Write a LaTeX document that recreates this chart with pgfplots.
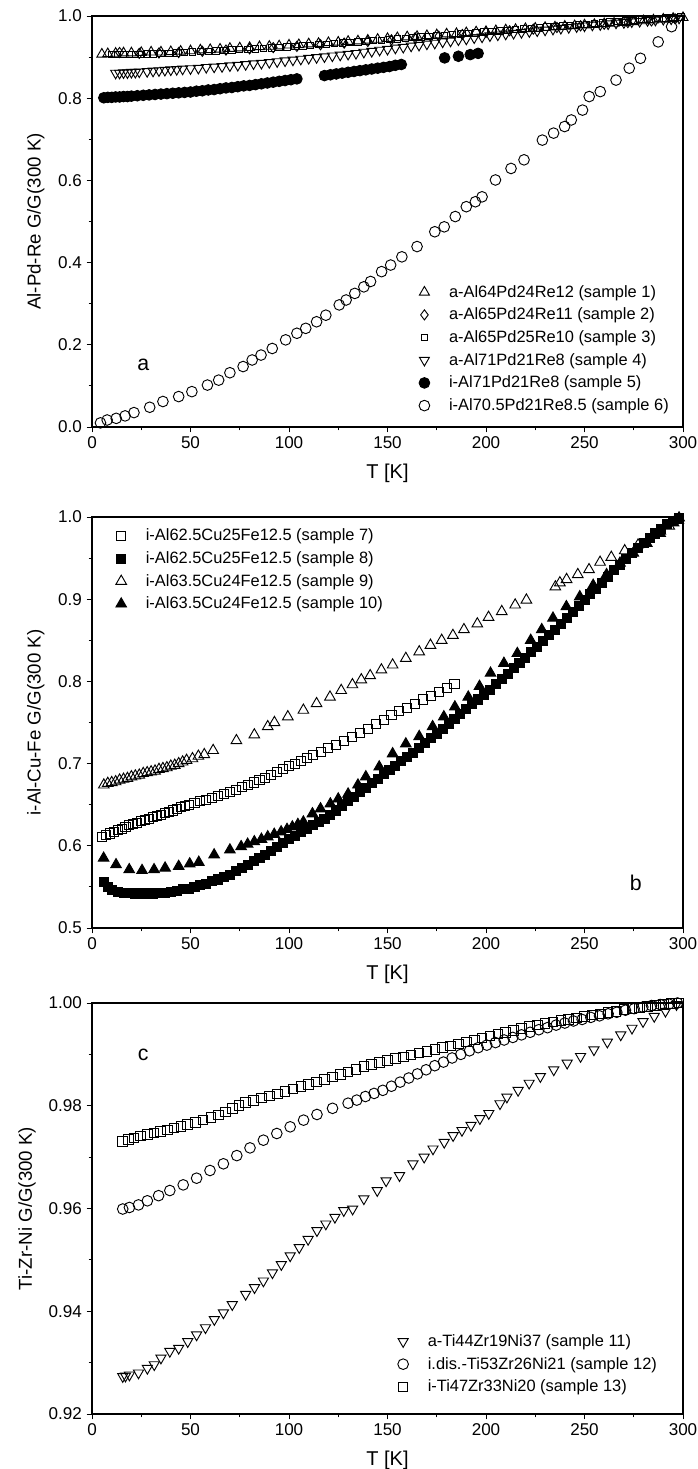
\documentclass[border=0pt]{standalone}
\usepackage{fontspec}
\setmainfont{Liberation Sans}
\usepackage{pgfplots}
\pgfplotsset{compat=1.18}

\pgfplotsset{
  panel/.style={
    scale only axis, width=443.25pt, height=308.25pt,
    xmin=0, xmax=300, xtick={0,50,...,300}, minor x tick num=1,
    minor y tick num=1,
    tick pos=left, tick align=outside,
    major tick length=4pt, minor tick length=2.5pt,
    axis line style={line width=0.9pt}, every tick/.style={black,line width=0.7pt},
    tick label style={font=\fontsize{12.8}{14}\selectfont},
    ylabel style={font=\fontsize{14}{16}\selectfont},
    xlabel style={font=\fontsize{15}{17}\selectfont},
    /pgf/number format/assume math mode=true,
    xlabel={T [K]},
    xlabel style={at={(axis description cs:0.5,-0.112)},anchor=center},
    legend style={draw=none, fill=none, font=\fontsize{12.3}{14}\selectfont,
      row sep=2.6pt, column sep=12.5pt, inner sep=0pt},
    legend cell align=left,
    legend image code/.code={\draw[##1] plot coordinates {(0pt,0pt)};},
    clip=false,
  },
  mk/.style={only marks, black, mark size=4pt, line width=0.7pt},
}

\begin{document}
\begin{tikzpicture}
\useasboundingbox (-69pt,-41.25pt) rectangle (453.75pt,1060.5pt);

% ---------------- panel a
\begin{axis}[panel, at={(0,740.25pt)}, anchor=south west,
  ymin=0, ymax=1, ytick={0,0.2,...,1.0},
  yticklabel style={/pgf/number format/.cd,fixed,fixed zerofill,precision=1},
  ylabel={Al-Pd-Re G/G(300 K)},
  ylabel style={at={(axis description cs:-0.095,0.5)},anchor=center},
  legend style={at={(0.553,0.028)},anchor=south west},
]
\addplot[mk, mark=triangle, mark size=4.3pt] coordinates {
(5,0.907)(8,0.908)(12,0.909)(16,0.910)(20,0.910)(25,0.911)(30,0.912)(35,0.912)(40,0.913)
(45,0.914)(50,0.915)(55,0.917)(60,0.918)(65,0.919)(70,0.921)(75,0.922)(80,0.923)(85,0.925)
(90,0.926)(95,0.927)(100,0.929)(105,0.930)(110,0.932)(115,0.933)(120,0.935)(125,0.936)
(130,0.938)(135,0.939)(140,0.941)(145,0.943)(150,0.945)(155,0.947)(160,0.949)(165,0.950)
(170,0.952)(175,0.954)(180,0.956)(185,0.957)(190,0.959)(195,0.961)(200,0.962)(205,0.964)
(210,0.966)(215,0.967)(220,0.969)(225,0.970)(230,0.972)(235,0.973)(240,0.975)(245,0.976)
(250,0.978)(255,0.979)(260,0.981)(265,0.982)(270,0.984)(275,0.986)(280,0.988)(285,0.990)
(290,0.992)(295,0.994)(300,0.996)};
\addlegendentry{a-Al64Pd24Re12 (sample 1)}
\addplot[mk, mark=diamond, mark size=3.8pt] coordinates {
(14,0.911)(24,0.909)(34,0.910)(44,0.911)(56,0.914)(68,0.917)(80,0.920)(92,0.923)(104,0.926)
(116,0.930)(128,0.934)(140,0.938)(152,0.942)(164,0.947)(176,0.951)(188,0.955)(200,0.960)
(212,0.964)(224,0.968)(236,0.972)(248,0.976)(260,0.980)(272,0.984)(284,0.988)(296,0.993)};
\addlegendentry{a-Al65Pd24Re11 (sample 2)}
\addplot[mk, mark=square, mark size=2.4pt] coordinates {
(10,0.906)(13,0.906)(16,0.906)(19,0.907)(22,0.907)(25,0.907)(28,0.908)(31,0.908)(35,0.909)
(39,0.909)(43,0.910)(47,0.911)(51,0.912)(55,0.913)(59,0.914)(63,0.915)(67,0.916)(71,0.917)
(75,0.918)(79,0.919)(83,0.920)(87,0.921)(91,0.922)(95,0.923)(99,0.925)(103,0.926)(107,0.927)
(111,0.928)(115,0.930)(119,0.931)(123,0.933)(127,0.934)(131,0.935)(135,0.937)(139,0.938)
(143,0.940)(147,0.941)(151,0.943)(155,0.944)(159,0.946)(163,0.947)(167,0.949)(171,0.950)
(175,0.952)(179,0.953)(183,0.955)(187,0.956)(191,0.958)(195,0.959)(199,0.961)(203,0.962)
(207,0.964)(211,0.965)(215,0.967)(219,0.968)(223,0.970)(227,0.971)(231,0.973)(235,0.974)
(239,0.976)(243,0.977)(247,0.979)(251,0.980)(255,0.982)(259,0.983)(263,0.985)(267,0.986)
(271,0.988)(275,0.989)(279,0.991)(283,0.992)(287,0.994)(291,0.995)(295,0.997)(299,0.998)};
\addlegendentry{a-Al65Pd25Re10 (sample 3)}
\addplot[mk, mark=triangle, mark size=4.3pt, every mark/.append style={rotate=180}] coordinates {
(12,0.861)(14,0.861)(16,0.862)(18,0.862)(20,0.863)(22,0.863)(24,0.864)(28,0.865)(31,0.866)
(34,0.867)(37,0.868)(40,0.869)(43,0.870)(46,0.871)(50,0.872)(54,0.873)(58,0.875)(62,0.876)
(66,0.877)(70,0.879)(74,0.880)(78,0.882)(82,0.884)(86,0.885)(90,0.887)(94,0.889)(98,0.891)
(102,0.893)(106,0.895)(110,0.897)(114,0.899)(118,0.901)(122,0.903)(126,0.905)(130,0.907)
(134,0.909)(138,0.912)(142,0.914)(146,0.917)(150,0.919)(154,0.922)(158,0.924)(162,0.927)
(166,0.929)(170,0.932)(174,0.934)(178,0.937)(182,0.939)(186,0.942)(190,0.944)(194,0.947)
(198,0.949)(202,0.952)(206,0.954)(210,0.956)(214,0.958)(218,0.960)(222,0.962)(226,0.964)
(230,0.966)(234,0.968)(238,0.970)(242,0.972)(246,0.974)(250,0.976)(254,0.978)(258,0.979)
(262,0.981)(266,0.983)(270,0.984)(274,0.986)(278,0.987)(282,0.989)(286,0.990)(290,0.992)
(294,0.993)(298,0.995)};
\addlegendentry{a-Al71Pd21Re8 (sample 4)}
\addplot[mk, mark=*] coordinates {
(6,0.801)(8,0.802)(10,0.802)(12,0.803)(14,0.803)(16,0.804)(18,0.804)(20,0.805)(23,0.806)
(26,0.807)(29,0.808)(32,0.809)(35,0.810)(38,0.811)(41,0.812)(44,0.813)(47,0.814)(50,0.815)
(53,0.817)(56,0.818)(59,0.820)(62,0.821)(65,0.823)(68,0.825)(71,0.826)(74,0.828)(77,0.830)
(80,0.831)(83,0.833)(86,0.835)(89,0.837)(92,0.839)(95,0.841)(98,0.843)(101,0.845)(104,0.847)
(118,0.855)(121,0.857)(124,0.859)(127,0.861)(130,0.863)(133,0.865)(136,0.867)(139,0.869)
(142,0.871)(145,0.873)(148,0.875)(151,0.877)(154,0.880)(157,0.882)
(179,0.898)(186,0.902)(192,0.906)(196,0.909)};
\addlegendentry{i-Al71Pd21Re8 (sample 5)}
\addplot[mk, mark=o] coordinates {
(4.3,0.010)(7.7,0.017)(12.3,0.021)(16.8,0.027)(21.3,0.035)(29.3,0.048)(36,0.062)(44,0.074)
(50.7,0.086)(58.6,0.102)(64.3,0.114)(70,0.132)(76.7,0.147)(81.3,0.163)(85.8,0.175)(91.5,0.191)
(98.3,0.212)(104,0.228)(108.5,0.240)(114,0.256)(118.7,0.272)(125.5,0.297)(129,0.309)
(133.4,0.325)(138,0.341)(141.4,0.354)(147,0.378)(151.6,0.394)(157.3,0.414)(165,0.439)
(174,0.475)(178.8,0.487)(184.4,0.512)(190,0.536)(194.6,0.548)(198,0.560)(204.8,0.601)
(212.7,0.629)(219.3,0.650)(228.6,0.698)(234.3,0.715)(239.9,0.731)(243.3,0.747)(249,0.771)
(252.4,0.804)(258,0.816)(266,0.844)(272.7,0.873)(278.4,0.897)(287.4,0.937)(294.2,0.974)};
\addlegendentry{i-Al70.5Pd21Re8.5 (sample 6)}
\node[font=\fontsize{16}{18}\selectfont] at (axis cs:26,0.15) {a};
\end{axis}

% ---------------- panel b
\begin{axis}[panel, at={(0,364.5pt)}, anchor=south west,
  ymin=0.5, ymax=1, ytick={0.5,0.6,...,1.0},
  yticklabel style={/pgf/number format/.cd,fixed,fixed zerofill,precision=1},
  ylabel={i-Al-Cu-Fe G/G(300 K)},
  ylabel style={at={(axis description cs:-0.095,0.5)},anchor=center},
  legend style={at={(0.040,0.978)},anchor=north west},
]
\addplot[mk, mark=square, mark size=3.4pt] coordinates {
(5,0.611)(7,0.613)(9,0.615)(11,0.617)(13,0.619)(15,0.621)(17,0.623)(19,0.625)(21,0.626)
(23,0.628)(25,0.630)(27,0.631)(29,0.633)(31,0.635)(33,0.636)(35,0.638)(37,0.640)(39,0.641)
(41,0.643)(43,0.645)(45,0.647)(47,0.648)(49,0.650)(52,0.652)(55,0.654)(58,0.656)(61,0.658)
(64,0.661)(67,0.663)(70,0.666)(73,0.668)(76,0.671)(79,0.674)(82,0.677)(85,0.680)(88,0.683)
(91,0.686)(94,0.690)(97,0.693)(100,0.697)(103,0.700)(106,0.703)(109,0.707)(112,0.710)
(116,0.714)(120,0.719)(124,0.723)(128,0.728)(132,0.732)(136,0.737)(140,0.742)(144,0.748)
(148,0.753)(152,0.759)(156,0.764)(160,0.768)(164,0.773)(168,0.778)(172,0.782)(176,0.787)
(180,0.792)(184,0.797)};
\addlegendentry{i-Al62.5Cu25Fe12.5 (sample 7)}
\addplot[mk, mark=square*, mark size=3.4pt] coordinates {
(6,0.556)(8,0.550)(10,0.546)(13,0.544)(16,0.543)(19,0.543)(22,0.542)(25,0.542)(28,0.542)
(31,0.542)(34,0.543)(37,0.543)(40,0.544)(43,0.545)(46,0.547)(49,0.548)(52,0.550)(55,0.552)
(58,0.554)(61,0.557)(64,0.559)(67,0.562)(70,0.565)(73,0.569)(76,0.573)(79,0.577)(82,0.581)
(85,0.585)(88,0.589)(91,0.594)(94,0.599)(97,0.603)(100,0.608)(103,0.612)(106,0.617)
(109,0.621)(112,0.625)(115,0.629)(118,0.633)(121,0.638)(124,0.643)(127,0.648)(130,0.654)
(133,0.659)(136,0.665)(139,0.670)(142,0.676)(145,0.681)(148,0.687)(151,0.692)(154,0.697)
(157,0.703)(160,0.708)(163,0.713)(166,0.719)(169,0.725)(172,0.731)(175,0.736)(178,0.742)
(181,0.748)(184,0.754)(187,0.760)(190,0.766)(193,0.772)(196,0.778)(199,0.784)(202,0.790)
(205,0.797)(208,0.803)(211,0.809)(214,0.816)(217,0.822)(220,0.829)(223,0.836)(226,0.842)
(229,0.849)(232,0.856)(235,0.863)(238,0.870)(241,0.877)(244,0.884)(247,0.892)(250,0.899)
(253,0.906)(256,0.913)(259,0.920)(262,0.927)(265,0.935)(268,0.942)(271,0.949)(274,0.956)
(277,0.962)(280,0.968)(283,0.974)(286,0.980)(289,0.986)(292,0.991)(295,0.995)(298,0.999)};
\addlegendentry{i-Al62.5Cu25Fe12.5 (sample 8)}
\addplot[mk, mark=triangle, mark size=4.6pt] coordinates {
(6,0.674)(8,0.676)(10,0.677)(12,0.678)(14,0.680)(16,0.681)(18,0.682)(20,0.684)(22,0.685)
(24,0.686)(26,0.688)(28,0.689)(30,0.690)(32,0.691)(34,0.693)(36,0.694)(38,0.695)(40,0.697)
(42,0.698)(44,0.700)(46,0.702)(48,0.704)(51,0.706)(54,0.709)(57,0.711)(61.5,0.716)
(73.3,0.728)(82.4,0.735)(89.2,0.745)(92.6,0.750)(99.4,0.757)(107.3,0.765)(114,0.773)
(120.8,0.781)(126.5,0.789)(132.2,0.796)(136.7,0.802)(141.2,0.807)(146.9,0.814)(152.6,0.820)
(159.3,0.828)(166.1,0.836)(171.8,0.844)(177.5,0.850)(183.2,0.856)(188.8,0.863)(195.6,0.870)
(201.3,0.878)(208,0.885)(214.8,0.893)(220.5,0.899)
(235.2,0.915)(237.5,0.920)(240.9,0.924)(246.6,0.930)(252.3,0.936)(257.9,0.945)(263.6,0.951)
(270.4,0.959)(277.2,0.966)(288.5,0.983)(293,0.989)(297.6,0.996)};
\addlegendentry{i-Al63.5Cu24Fe12.5 (sample 9)}
\addplot[mk, mark=triangle*, mark size=4.6pt] coordinates {
(5.9,0.585)(12.2,0.577)(18.9,0.571)(25.4,0.570)(31.5,0.571)(37.1,0.573)(44,0.575)(49.6,0.578)
(54.2,0.580)(62,0.589)(70,0.595)(75.7,0.599)(79,0.602)(82.4,0.605)(86,0.608)(89.2,0.611)
(92.5,0.614)(96,0.617)(99,0.620)(101.7,0.623)(104.5,0.626)(107.3,0.629)(111.9,0.639)
(116,0.645)(121,0.651)(125,0.657)(130,0.663)(135,0.674)(139,0.684)(145.8,0.696)(152.6,0.712)
(159.3,0.724)(166.1,0.733)(172.9,0.745)(178.6,0.757)(184.2,0.769)(191,0.781)(196.7,0.794)
(202.3,0.810)(209.1,0.822)(215.9,0.834)(222.7,0.850)(228.3,0.863)(234,0.877)(240.8,0.891)
(247.6,0.903)(254.4,0.917)(261.2,0.930)(268,0.944)(274.8,0.956)(281.6,0.968)(288.4,0.980)
(295.2,0.993)(298,0.999)};
\addlegendentry{i-Al63.5Cu24Fe12.5 (sample 10)}
\node[font=\fontsize{16}{18}\selectfont] at (axis cs:276,0.555) {b};
\end{axis}

% ---------------- panel c
\begin{axis}[panel, at={(0,0)}, anchor=south west,
  ymin=0.92, ymax=1, ytick={0.92,0.94,...,1.0},
  yticklabel style={/pgf/number format/.cd,fixed,fixed zerofill,precision=2},
  ylabel={Ti-Zr-Ni G/G(300 K)},
  ylabel style={at={(axis description cs:-0.11,0.5)},anchor=center},
  legend style={at={(0.517,0.042)},anchor=south west},
]
\addplot[mk, mark=triangle, every mark/.append style={rotate=180}, mark size=4.4pt] coordinates {
(15.6,0.9273)(17,0.9274)(19,0.9276)(23.6,0.9280)(28.1,0.9289)(31.6,0.9296)(35,0.9309)
(39.5,0.9322)(44,0.9328)(48.6,0.9341)(53.1,0.9354)(57.6,0.9368)(62.1,0.9384)(66.7,0.9397)
(71.2,0.9413)(78,0.9433)(82.5,0.9446)(87,0.9459)(91.6,0.9475)(96.1,0.9491)(100.6,0.9508)
(105.2,0.9524)(109.7,0.9540)(114.2,0.9557)(118.7,0.9570)(123.3,0.9583)(127.8,0.9596)
(132.3,0.9599)(138,0.9619)(144.8,0.9635)(149.3,0.9654)(156.1,0.9664)(162.9,0.9687)
(168.6,0.9700)(173.1,0.9716)(178.8,0.9729)(183.3,0.9742)(187.8,0.9752)(192.4,0.9762)
(196.9,0.9775)(201.4,0.9785)(207.1,0.9804)(210.6,0.9817)(216.3,0.9830)(221.9,0.9844)
(227.6,0.9857)(234.4,0.9870)(241.2,0.9883)(248,0.9896)(254.8,0.9909)(261.6,0.9924)
(268.4,0.9938)(274.1,0.9951)(279.7,0.9964)(285.4,0.9974)(291.1,0.9984)(296.7,0.9997)};
\addlegendentry{a-Ti44Zr19Ni37 (sample 11)}
\addplot[mk, mark=o, mark size=4pt] coordinates {
(15.6,0.9599)(19,0.9602)(23.6,0.9607)(28.1,0.9615)(33.8,0.9625)(39.5,0.9635)(46.3,0.9646)
(53.1,0.9659)(59.9,0.9674)(66.7,0.9687)(73.5,0.9703)(80.2,0.9718)(87,0.9733)(93.8,0.9746)
(100.6,0.9759)(107.4,0.9772)(114.2,0.9783)(122.1,0.9795)(130,0.9805)(134.4,0.9811)
(138.8,0.9818)(143.2,0.9824)(147.6,0.9830)(152,0.9838)(156.4,0.9846)(160.8,0.9854)
(165.2,0.9862)(169.6,0.9870)(174,0.9878)(178.4,0.9885)(182.8,0.9893)(187.2,0.9900)
(191.6,0.9907)(196,0.9913)(200.4,0.9918)(204.8,0.9923)(209.2,0.9928)(213.6,0.9933)
(218,0.9938)(222.4,0.9943)(226.8,0.9948)(231.2,0.9952)(235.6,0.9957)(240,0.9961)
(244.4,0.9965)(248.8,0.9968)(253.2,0.9972)(257.6,0.9975)(262,0.9979)(266.4,0.9982)
(270.8,0.9986)(275.2,0.9989)(279.6,0.9992)(284,0.9995)(288.4,0.9997)(292.8,0.9998)
(297.2,1.0000)};
\addlegendentry{i.dis.-Ti53Zr26Ni21 (sample 12)}
\addplot[mk, mark=square, mark size=3.6pt] coordinates {
(15.6,0.9731)(18.5,0.9734)(21.3,0.9737)(24.7,0.9741)(28.1,0.9744)(31.5,0.9747)(34.9,0.9750)
(38.3,0.9753)(41.7,0.9757)(45.1,0.9760)(48.5,0.9763)(52.5,0.9767)(56.4,0.9772)(60.3,0.9777)
(64.3,0.9782)(67.7,0.9788)(71.2,0.9795)(74.6,0.9801)(78,0.9806)(82,0.9810)(86,0.9815)
(90,0.9819)(94,0.9823)(98,0.9828)(102,0.9833)(106,0.9837)(110,0.9841)(114,0.9846)
(118,0.9851)(122,0.9856)(126,0.9861)(130,0.9866)(134,0.9871)(138,0.9876)(142,0.9880)
(146,0.9884)(150,0.9888)(154,0.9892)(158,0.9895)(162,0.9899)(166,0.9903)(170,0.9906)
(174,0.9909)(178,0.9913)(182,0.9916)(186,0.9920)(190,0.9924)(194,0.9928)(198,0.9932)
(202,0.9936)(206,0.9940)(210,0.9943)(214,0.9947)(218,0.9950)(222,0.9954)(226,0.9957)
(230,0.9960)(234,0.9963)(238,0.9966)(242,0.9968)(246,0.9971)(250,0.9974)(254,0.9977)
(258,0.9979)(262,0.9982)(266,0.9984)(270,0.9987)(274,0.9989)(278,0.9991)(282,0.9993)
(286,0.9995)(290,0.9997)(294,0.9999)(298,1.0000)};
\addlegendentry{i-Ti47Zr33Ni20 (sample 13)}
\node[font=\fontsize{16}{18}\selectfont] at (axis cs:26,0.990) {c};
\end{axis}
\end{tikzpicture}
\end{document}
